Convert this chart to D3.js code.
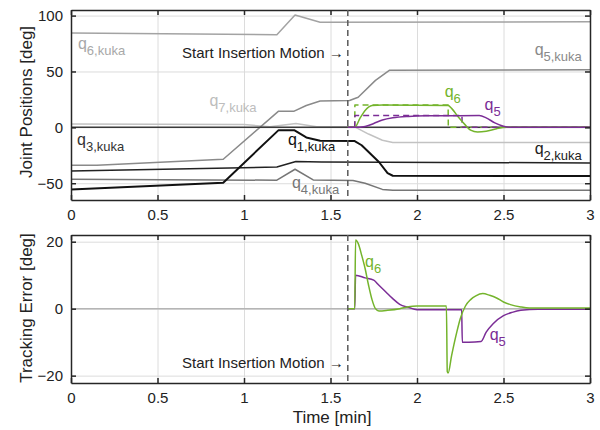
<!DOCTYPE html>
<html>
<head>
<meta charset="utf-8">
<script src="https://cdn.jsdelivr.net/npm/d3@7"></script>
<style>
  body { margin: 0; background: #fff; }
  svg { font-family: Arial, "Liberation Sans", sans-serif; }
</style>
</head>
<body>
<div id="chart"></div>
<script>
// tick values
const xTicks = [0, 0.5, 1, 1.5, 2, 2.5, 3]
const posTicks = [-50, 0, 50, 100]
const errTicks = [-20, 0, 20]
const startInsertion = 1.6

// joint positions of the kuka [time min, deg]
const q1Kuka = [[0, -55.5], [0.88, -49.5], [1.2, -2.5], [1.29, -2.5], [1.36, -9], [1.44, -12], [1.64, -12.3], [1.68, -16], [1.78, -31], [1.83, -41], [1.86, -43.3], [3, -43.5]]
const q2Kuka = [[0, -39], [1.19, -35.5], [1.3, -30.5], [1.45, -31], [3, -31.8]]
const q3Kuka = [[0, 0], [3, 0]]
const q4Kuka = [[0, -46.5], [1.19, -47.3], [1.295, -37.5], [1.4, -47], [1.63, -47.5], [1.7, -50], [1.8, -55.5], [1.86, -56.3], [3, -56.3]]
const q5Kuka = [[0, -34], [0.15, -34], [0.88, -28.5], [1.2, 14.5], [1.29, 14.5], [1.36, 19.6], [1.44, 23.5], [1.61, 24], [1.66, 27], [1.76, 42], [1.84, 51], [3, 51.5]]
const q6Kuka = [[0, 84.5], [1.19, 82.8], [1.295, 100.6], [1.44, 94], [3, 94.5]]
const q7Kuka = [[0, 3], [1.0, 2.5], [1.15, 0.5], [1.3, 3.5], [1.42, 0.5], [1.64, 0.5], [1.72, -6], [1.8, -11.5], [1.86, -13.5], [3, -13.5]]

// actual and reference positions of the inserted joints
const q6Pos = [[1.6, 0], [1.64, 0], [1.67, 8], [1.7, 15], [1.74, 19.5], [1.8, 20], [2.18, 19.5], [2.2, 17], [2.24, 9], [2.28, 2], [2.31, -2.5], [2.35, -4.2], [2.4, -3.5], [2.46, -1.2], [2.52, 0], [3, 0]]
const q5Pos = [[1.6, 0], [1.64, 0], [1.7, 0.8], [1.75, 3.5], [1.8, 6.5], [1.86, 8.5], [1.95, 9.8], [2.05, 10.3], [2.36, 10.5], [2.4, 8.5], [2.45, 4], [2.5, 1], [2.55, 0], [3, 0]]
const q6Ref = [[1.64, 0], [1.641, 20], [2.18, 20], [2.181, 0], [3, 0]]
const q5Ref = [[1.64, 0], [1.641, 10.5], [2.26, 10.5], [2.261, 0], [3, 0]]

// tracking errors
const otherErr = [[0, 0], [3, 0]]
const q6Err = [[1.6, 0], [1.64, 0], [1.645, 20.5], [1.66, 19.5], [1.68, 16], [1.7, 12], [1.72, 7], [1.74, 2.7], [1.76, 0], [1.78, -0.7], [1.83, -0.5], [1.9, 0], [1.95, 0.6], [2, 0.8], [2.17, 0.8], [2.175, -18.8], [2.18, -19.2], [2.2, -14], [2.23, -7], [2.25, -3], [2.28, 0.8], [2.31, 2.7], [2.34, 3.8], [2.38, 4.5], [2.42, 4], [2.46, 3.2], [2.5, 2], [2.54, 1.2], [2.6, 0.5], [2.65, 0.2], [3, 0.2]]
const q5Err = [[1.6, 0], [1.64, 0], [1.645, 10], [1.7, 9.2], [1.75, 8.5], [1.78, 7], [1.82, 5], [1.86, 3], [1.9, 1.3], [1.95, 0.4], [2, -0.3], [2.258, -0.3], [2.262, -10], [2.3, -10], [2.37, -9.8], [2.4, -7], [2.44, -4.5], [2.5, -2.1], [2.55, -1.1], [2.6, -0.5], [2.7, -0.2], [3, -0.2]]

const green = '#74b42c'
const purple = '#7b2d96'

const svg = d3.select('#chart')
  .append('svg')
  .attr('width', 600)
  .attr('height', 430)

const left = 71
const right = 590

const xScale = d3.scaleLinear().domain([0, 3]).range([left, right])
const yPos = d3.scaleLinear().domain([-65, 105]).range([200, 10])
const yErr = d3.scaleLinear().domain([-22.2, 22]).range([383, 235])

function drawPanel (y, yTicks, showLabelsX) {
  const top = y.range()[1]
  const bottom = y.range()[0]
  const g = svg.append('g')

  // grid
  g.append('g')
    .attr('transform', 'translate(0,' + bottom + ')')
    .call(d3.axisBottom(xScale).tickValues(xTicks).tickSize(-(bottom - top)).tickFormat(''))
    .call(s => s.select('.domain').remove())
    .selectAll('line').attr('stroke', '#dcdcdc')
  g.append('g')
    .attr('transform', 'translate(' + left + ',0)')
    .call(d3.axisLeft(y).tickValues(yTicks).tickSize(-(right - left)).tickFormat(''))
    .call(s => s.select('.domain').remove())
    .selectAll('line').attr('stroke', '#dcdcdc')
  return g
}

function drawBox (y, yTicks) {
  const top = y.range()[1]
  const bottom = y.range()[0]
  const g = svg.append('g')
  const xb = g.append('g')
    .attr('transform', 'translate(0,' + bottom + ')')
    .call(d3.axisBottom(xScale).tickValues(xTicks).tickSizeInner(-5).tickSizeOuter(0).tickPadding(9).tickFormat(d3.format('')))
  g.append('g')
    .attr('transform', 'translate(0,' + top + ')')
    .call(d3.axisTop(xScale).tickValues(xTicks).tickSizeInner(-5).tickSizeOuter(0).tickFormat(''))
  g.append('g')
    .attr('transform', 'translate(' + left + ',0)')
    .call(d3.axisLeft(y).tickValues(yTicks).tickSizeInner(-5).tickSizeOuter(0).tickPadding(8))
  g.append('g')
    .attr('transform', 'translate(' + right + ',0)')
    .call(d3.axisRight(y).tickValues(yTicks).tickSizeInner(-5).tickSizeOuter(0).tickFormat(''))
  g.selectAll('.domain').attr('stroke', '#262626').attr('stroke-width', 1.5)
  g.selectAll('.tick line').attr('stroke', '#262626').attr('stroke-width', 1.5)
  g.selectAll('text').attr('font-size', 15).attr('fill', '#222').style('font-family', 'Arial, "Liberation Sans", sans-serif')
  return xb
}

function drawLine (y, data, color, width, dash, curve) {
  const line = d3.line()
    .x(d => xScale(d[0]))
    .y(d => y(d[1]))
    .curve(curve || d3.curveLinear)
  svg.append('path')
    .datum(data)
    .attr('d', line)
    .attr('fill', 'none')
    .attr('stroke', color)
    .attr('stroke-width', width)
    .attr('stroke-dasharray', dash || null)
    .attr('stroke-linejoin', 'round')
}

function qLabel (y, t, v, main, sub, color) {
  const txt = svg.append('text')
    .attr('x', xScale(t))
    .attr('y', y(v))
    .attr('fill', color)
    .attr('font-size', 16)
  txt.append('tspan').text(main)
  txt.append('tspan').attr('dy', 6).attr('font-size', 13).text(sub)
}

// top panel
drawPanel(yPos, posTicks)
drawLine(yPos, q6Kuka, '#a3a3a3', 1.5)
drawLine(yPos, q7Kuka, '#c2c2c2', 1.5)
drawLine(yPos, q5Kuka, '#8a8a8a', 1.5)
drawLine(yPos, q4Kuka, '#767676', 1.5)
drawLine(yPos, q3Kuka, '#3a3a3a', 1.5)
drawLine(yPos, q2Kuka, '#222', 1.5)
drawLine(yPos, q1Kuka, '#111', 2)
drawLine(yPos, q6Ref, green, 1.5, '6,4')
drawLine(yPos, q5Ref, purple, 1.5, '6,4')
drawLine(yPos, q6Pos, green, 1.5, null, d3.curveMonotoneX)
drawLine(yPos, q5Pos, purple, 1.5, null, d3.curveMonotoneX)
drawBox(yPos, posTicks)

// bottom panel
drawPanel(yErr, errTicks)
drawLine(yErr, otherErr, '#b5b5b5', 1.5)
drawLine(yErr, q5Err, purple, 1.5, null, d3.curveMonotoneX)
drawLine(yErr, q6Err, green, 1.5, null, d3.curveMonotoneX)
drawBox(yErr, errTicks)

// start of insertion motion
const xs = xScale(startInsertion)
;[yPos, yErr].forEach(y => {
  svg.append('line')
    .attr('x1', xs).attr('x2', xs)
    .attr('y1', y.range()[1]).attr('y2', y.range()[0])
    .attr('stroke', '#5a5a5a')
    .attr('stroke-width', 1.5)
    .attr('stroke-dasharray', '6,4')
})
svg.append('text')
  .attr('x', xs - 4).attr('y', yPos(62.5))
  .attr('text-anchor', 'end').attr('font-size', 15).attr('fill', '#222')
  .text('Start Insertion Motion \u2192')
svg.append('text')
  .attr('x', xs - 4).attr('y', yErr(-17.6))
  .attr('text-anchor', 'end').attr('font-size', 15).attr('fill', '#222')
  .text('Start Insertion Motion \u2192')

// joint labels
qLabel(yPos, 0.04, 70.5, 'q', '6,kuka', '#a8a8a8')
qLabel(yPos, 0.8, 18.7, 'q', '7,kuka', '#bdbdbd')
qLabel(yPos, 0.035, -16, 'q', '3,kuka', '#333')
qLabel(yPos, 1.254, -16, 'q', '1,kuka', '#111')
qLabel(yPos, 1.277, -54.5, 'q', '4,kuka', '#777')
qLabel(yPos, 2.68, 64.3, 'q', '5,kuka', '#8a8a8a')
qLabel(yPos, 2.68, -24, 'q', '2,kuka', '#222')
qLabel(yPos, 2.16, 26.8, 'q', '6', green)
qLabel(yPos, 2.39, 15.2, 'q', '5', purple)
qLabel(yErr, 1.7, 12.5, 'q', '6', green)
qLabel(yErr, 2.42, -9.3, 'q', '5', purple)

// axis titles
svg.append('text')
  .attr('transform', 'translate(32,102) rotate(-90)')
  .attr('text-anchor', 'middle').attr('font-size', 17).attr('fill', '#222')
  .text('Joint Positions [deg]')
svg.append('text')
  .attr('transform', 'translate(32,308) rotate(-90)')
  .attr('text-anchor', 'middle').attr('font-size', 17).attr('fill', '#222')
  .text('Tracking Error [deg]')
svg.append('text')
  .attr('x', 332).attr('y', 423)
  .attr('text-anchor', 'middle').attr('font-size', 17).attr('fill', '#222')
  .text('Time [min]')
</script>
</body>
</html>
